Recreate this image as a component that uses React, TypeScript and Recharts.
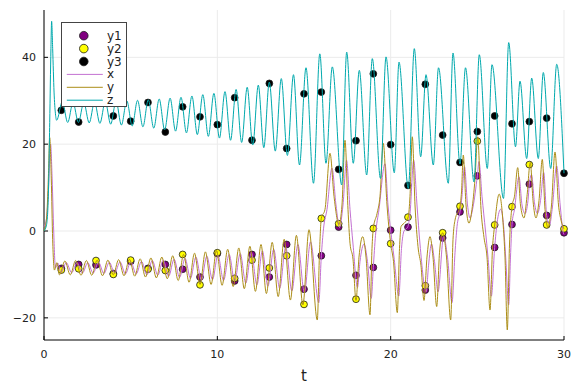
import React from 'react';
import {
  ComposedChart,
  Line,
  Scatter,
  XAxis,
  YAxis,
  CartesianGrid,
  Legend,
} from 'recharts';

// solution curves as [t, value]
const xLine: [number, number][] = [
  [0, 1], [0.15, 3], [0.25, 9], [0.38, 20], [0.47, 12], [0.56, 0], [0.66, -8.5], [0.8, -7.4],
  [0.975, -9.6], [1.287, -7.3], [1.595, -9.6], [1.907, -7.3], [2.215, -9.7], [2.527, -7.3],
  [2.835, -9.7], [3.147, -7.2], [3.456, -9.8], [3.768, -7.2], [4.076, -9.7], [4.388, -7.1],
  [4.696, -9.9], [5.008, -7.1], [5.316, -9.9], [5.628, -7.0], [5.936, -10.1], [6.248, -6.8],
  [6.565, -10.2], [6.877, -6.7], [7.194, -10.4], [7.506, -6.5], [7.823, -10.7], [8.135, -6.3],
  [8.452, -10.9], [8.764, -6.0], [9.081, -11.3], [9.393, -5.8], [9.721, -11.2], [10.033, -5.6],
  [10.361, -11.4], [10.679, -5.4], [11.002, -11.6], [11.32, -5.2], [11.642, -12.0], [11.96, -4.9],
  [12.283, -12.4], [12.601, -4.6], [12.917, -12.7], [13.252, -4.2], [13.598, -13.2], [13.944, -3.7],
  [14.302, -13.8], [14.648, -3.1], [15.023, -14.2], [15.375, -2.5], [15.854, -16.5], [16.0, -5.7],
  [16.125, 0.5], [16.327, 5], [16.615, 14.5], [16.846, 6], [17.048, 0.8], [17.25, 6],
  [17.452, 16.3], [17.654, 5], [17.827, -3], [18.087, -13], [18.231, -7], [18.462, -3],
  [18.663, -7], [18.881, -15.5], [18.998, -8.4], [19.125, -1], [19.327, 5], [19.673, 15.5],
  [19.846, 6], [20.0, 0.2], [20.192, -6], [20.47, -15], [20.625, -4], [20.769, 0],
  [20.983, 0.9], [21.115, 4], [21.329, 16.3], [21.519, 6], [21.692, -3], [22.052, -14],
  [22.183, -8], [22.356, -3], [22.529, -7], [22.731, -14], [23.054, -1.3], [23.279, -6],
  [23.538, -16.5], [23.712, -5], [23.827, 1], [24.0, 4.4], [24.115, 8], [24.26, 14.8],
  [24.433, 6], [24.577, 3], [24.75, 5.5], [25.0, 12.7], [25.096, 16], [25.269, 8],
  [25.471, 0], [25.615, -6], [25.808, -15], [26.0, -3.8], [26.144, 2], [26.346, 5],
  [26.519, 1], [26.635, -6], [26.81, -17], [26.913, -6], [27.0, 1.5], [27.144, 5],
  [27.404, 12.5], [27.577, 6], [27.75, 4], [27.923, 7], [28.0, 10.8], [28.125, 13],
  [28.298, 6.5], [28.471, 4], [28.644, 7], [28.829, 13.5], [29.0, 3.6], [29.173, 1.5],
  [29.317, 5], [29.577, 15], [29.779, 6], [29.96, -0.4], [30, -0.8],
];

const yLine: [number, number][] = [
  [0, 0], [0.15, 3], [0.25, 12], [0.33, 21.5], [0.42, 12], [0.5, -2], [0.6, -9], [0.74, -7.3],
  [0.894, -10.1], [1.206, -6.9], [1.514, -10.1], [1.826, -6.8], [2.134, -10.2], [2.446, -6.8],
  [2.754, -10.2], [3.066, -6.7], [3.375, -10.3], [3.687, -6.7], [3.995, -10.1], [4.307, -6.6],
  [4.615, -10.3], [4.927, -6.5], [5.235, -10.4], [5.547, -6.4], [5.855, -10.6], [6.167, -6.2],
  [6.484, -10.8], [6.796, -6.0], [7.113, -11.0], [7.425, -5.7], [7.742, -11.4], [8.054, -5.4],
  [8.371, -11.8], [8.683, -5.1], [9.0, -12.3], [9.312, -4.8], [9.64, -12.3], [9.952, -4.5],
  [10.275, -12.5], [10.598, -4.2], [10.916, -12.8], [11.239, -3.9], [11.556, -13.3], [11.879, -3.5],
  [12.197, -13.9], [12.52, -3.1], [12.831, -14.4], [13.165, -2.6], [13.511, -15.1], [13.857, -1.9],
  [14.215, -15.9], [14.561, -1.0], [14.936, -17.0], [15.288, 0.3], [15.767, -20.5], [15.894, -5],
  [15.998, 2.9], [16.212, 5], [16.5, 17.9], [16.731, 8], [17.019, 1.5], [17.192, 6],
  [17.365, 20.9], [17.538, 5], [17.654, -2.8], [17.827, -6.5], [18.0, -16], [18.173, -6],
  [18.387, -1.3], [18.577, -6], [18.808, -19.3], [18.923, -4], [18.998, 0.6], [19.212, 4],
  [19.385, 8], [19.575, 20.2], [19.788, 6], [20.002, -2.9], [20.163, -7], [20.383, -18.8],
  [20.51, -4], [20.596, 1], [20.827, 2], [21.017, 3.3], [21.115, 8], [21.248, 21.7],
  [21.404, 6], [21.577, -3.6], [21.75, -8], [21.923, -16], [22.096, -6], [22.269, -1.3],
  [22.442, -6], [22.656, -17.4], [22.817, -5], [23.0, -0.4], [23.221, -6], [23.463, -20.5],
  [23.596, -2], [23.712, 2.5], [24.0, 5.7], [24.087, 9], [24.19, 17.5], [24.346, 6],
  [24.519, 1.8], [24.692, 5], [24.865, 12], [25.021, 21.7], [25.212, 5], [25.385, -1.5],
  [25.558, -6], [25.731, -18.2], [25.875, -4], [26.0, 1.4], [26.26, 8.5], [26.481, 2],
  [26.596, -6], [26.729, -22.8], [26.856, -3], [27.0, 5.6], [27.144, 8], [27.329, 14.6],
  [27.49, 6], [27.692, 3], [27.865, 8], [28.056, 15.8], [28.212, 7], [28.385, 3],
  [28.558, 7], [28.748, 16.5], [28.904, 5], [29.077, 0.8], [29.279, 6], [29.481, 18.2],
  [29.683, 6], [29.827, 2.5], [30, 0.5],
];

const zLine: [number, number][] = [
  [0, 0], [0.15, 1.5], [0.25, 8], [0.33, 25], [0.4, 42], [0.44, 48.3], [0.5, 42], [0.58, 32],
  [0.66, 27], [0.73, 25.5], [1.056, 29.8], [1.367, 25.0], [1.676, 29.6], [1.985, 25.0],
  [2.296, 29.6], [2.608, 24.9], [2.916, 29.7], [3.225, 24.8], [3.537, 29.8], [3.848, 24.6],
  [4.157, 29.9], [4.466, 24.4], [4.777, 30.0], [5.088, 24.2], [5.397, 30.1], [5.706, 24.0],
  [6.017, 30.2], [6.332, 23.7], [6.646, 30.4], [6.961, 23.3], [7.275, 30.6], [7.59, 23.0],
  [7.904, 30.8], [8.218, 22.6], [8.533, 31.1], [8.847, 22.2], [9.162, 31.4], [9.482, 21.8],
  [9.802, 31.7], [10.122, 21.4], [10.442, 32.1], [10.763, 20.9], [11.083, 32.6], [11.403, 20.4],
  [11.723, 33.1], [12.043, 19.8], [12.364, 33.6], [12.681, 19.2], [12.998, 34.3], [13.344, 18.4],
  [13.69, 35.1], [14.042, 17.4], [14.394, 36.0], [14.74, 15.2], [15.115, 37.6], [15.548, 11.0],
  [15.912, 40.8], [16.269, 15.6], [16.633, 37.8], [17.175, 10.6], [17.463, 41.2], [17.844, 15.6],
  [18.19, 37.0], [18.617, 12.9], [18.941, 39.7], [19.414, 12.1], [19.731, 40.1], [20.21, 13.4],
  [20.481, 38.9], [21.018, 9.8], [21.364, 42.0], [21.733, 17.1], [22.039, 36.0], [22.46, 15.2],
  [22.76, 37.6], [23.325, 11.0], [23.596, 41.0], [24.0, 15.4], [24.317, 37.6], [24.808, 11.3],
  [25.113, 40.6], [25.575, 14.4], [25.846, 38.3], [26.51, 7.5], [26.81, 43.4], [27.202, 19.4],
  [27.462, 34.5], [27.848, 16.7], [28.137, 35.2], [28.517, 16.7], [28.806, 36.5], [29.233, 14.4],
  [29.579, 38.4], [30, 13.3],
];

// sampled data points
const dotT = [
  1, 2, 3, 4, 5, 6, 7, 8, 9, 10, 11, 12, 13, 14, 15,
  16, 17, 18, 19, 20, 21, 22, 23, 24, 25, 26, 27, 28, 29, 30,
];
const dotY1 = [
  -8.6, -7.7, -7.8, -9.8, -7.0, -8.6, -7.7, -8.8, -10.6, -5.2, -11.5, -5.4, -10.6, -3.1, -13.4,
  -5.7, 0.9, -10.2, -8.4, 0.2, 0.9, -13.6, -1.6, 4.4, 12.7, -3.8, 1.5, 10.8, 3.6, -0.4,
];
const dotY2 = [
  -9.0, -8.7, -6.8, -10.0, -6.7, -8.8, -9.1, -5.4, -12.4, -5.0, -10.9, -6.7, -8.5, -5.7, -16.9,
  2.9, 1.7, -15.7, 0.6, -2.9, 3.2, -12.6, -0.4, 5.7, 20.7, 1.4, 5.6, 15.3, 1.4, 0.5,
];
const dotY3 = [
  27.8, 25.1, 30.0, 26.5, 25.3, 29.6, 22.8, 28.6, 26.3, 24.5, 30.7, 20.9, 34.0, 19.0, 31.6,
  32.0, 14.2, 20.8, 36.2, 19.9, 10.5, 33.8, 22.1, 15.8, 22.9, 26.5, 24.7, 25.2, 26.0, 13.3,
];

const tTicks = [0, 10, 20, 30];
const vTicks = [-20, 0, 20, 40];

const legendItems = [
  { name: 'y1', kind: 'dot', color: '#800080' },
  { name: 'y2', kind: 'dot', color: '#ffff00' },
  { name: 'y3', kind: 'dot', color: '#000000' },
  { name: 'x', kind: 'line', color: '#c371d2' },
  { name: 'y', kind: 'line', color: '#ac8e18' },
  { name: 'z', kind: 'line', color: '#00a9ad' },
];

const FONT = 'DejaVu Sans, sans-serif';

const toRows = (pts: [number, number][]) => pts.map(([t, v]) => ({ t, v }));
const dotRows = (vals: number[]) => dotT.map((t, i) => ({ t, v: vals[i] }));

const dotShape = (fill: string) => (props: any) => (
  <circle cx={props.cx} cy={props.cy} r={3.4} fill={fill} stroke="#1a1a1a" strokeWidth={0.8} />
);

function LegendBox() {
  return (
    <svg width={67} height={86} style={{ display: 'block' }}>
      <rect x={0.5} y={0.5} width={65} height={84} fill="#fff" stroke="#444" strokeWidth={1} />
      {legendItems.map((item, i) => {
        const cy = 13.7 + i * 12.9;
        return (
          <g key={item.name}>
            {item.kind === 'dot' ? (
              <circle cx={22.8} cy={cy} r={4.3} fill={item.color} stroke="#1a1a1a" strokeWidth={0.8} />
            ) : (
              <line x1={5.8} x2={41.8} y1={cy} y2={cy} stroke={item.color} strokeWidth={1} />
            )}
            <text x={46} y={cy + 4} fontSize={12} fontFamily={FONT} fill="#222">
              {item.name}
            </text>
          </g>
        );
      })}
    </svg>
  );
}

const fmt = (v: number) => String(v).replace('-', '\u2212');

export default function App() {
  return (
    <div style={{ position: 'absolute', left: 0, top: 0, fontFamily: FONT }}>
      <ComposedChart width={576} height={384} margin={{ top: 10, right: 12, bottom: 0, left: 0 }}>
        <CartesianGrid stroke="#ebebeb" strokeWidth={1} horizontalValues={vTicks} verticalValues={tTicks} />
        <XAxis
          type="number"
          dataKey="t"
          domain={[0, 30]}
          ticks={tTicks}
          interval={0}
          height={44}
          tickSize={-4}
          tickMargin={14}
          axisLine={{ stroke: '#000' }}
          tickLine={{ stroke: '#000' }}
          tick={{ fontSize: 11, fill: '#222', fontFamily: FONT }}
          label={{ value: 't', position: 'insideBottom', offset: 3, fontSize: 15, fill: '#222', fontFamily: FONT }}
        />
        <YAxis
          type="number"
          domain={[-25.1, 50.9]}
          ticks={vTicks}
          interval={0}
          width={44}
          tickSize={-4}
          tickMargin={12}
          tickFormatter={fmt}
          axisLine={{ stroke: '#000' }}
          tickLine={{ stroke: '#000' }}
          tick={{ fontSize: 11, fill: '#222', fontFamily: FONT }}
        />
        <Legend
          layout="vertical"
          align="center"
          verticalAlign="middle"
          wrapperStyle={{ left: 61, top: 22, width: 67, height: 86 }}
          content={() => <LegendBox />}
        />
        <Scatter name="y1" data={dotRows(dotY1)} dataKey="v" fill="#800080" shape={dotShape('#800080')} isAnimationActive={false} />
        <Scatter name="y2" data={dotRows(dotY2)} dataKey="v" fill="#ffff00" shape={dotShape('#ffff00')} isAnimationActive={false} />
        <Scatter name="y3" data={dotRows(dotY3)} dataKey="v" fill="#000000" shape={dotShape('#000000')} isAnimationActive={false} />
        <Line name="x" zIndex={650} data={toRows(xLine)} dataKey="v" type="monotone" stroke="#c371d2" strokeWidth={1} dot={false} activeDot={false} isAnimationActive={false} />
        <Line name="y" zIndex={660} data={toRows(yLine)} dataKey="v" type="monotone" stroke="#ac8e18" strokeWidth={1} dot={false} activeDot={false} isAnimationActive={false} />
        <Line name="z" zIndex={670} data={toRows(zLine)} dataKey="v" type="monotone" stroke="#00a9ad" strokeWidth={1} dot={false} activeDot={false} isAnimationActive={false} />
      </ComposedChart>
    </div>
  );
}
